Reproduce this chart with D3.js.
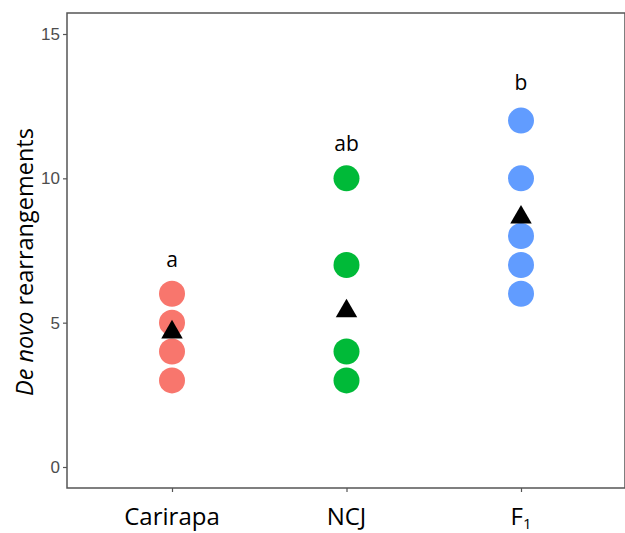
<!DOCTYPE html>
<html>
<head>
<meta charset="utf-8">
<script src="https://cdn.jsdelivr.net/npm/d3@7"></script>
<style>
  body { margin: 0; background: #fff; }
  svg { display: block; }
</style>
</head>
<body>
<svg width="625" height="533"></svg>
<script>
const categories = ["Carirapa", "NCJ", "F1"];
const colors = ["#F8766D", "#00BA38", "#619CFF"];
const points = [
    [3, 4, 5, 6],
    [3, 4, 7, 10],
    [6, 7, 8, 10, 12]
];
const means = [4.67, 5.4, 8.65];
const letters = ["a", "ab", "b"];
const letterY = [7.2, 11.2, 13.3];
const yTicks = [0, 5, 10, 15];

const svg = d3.select("svg");
const panelLeft = 67, panelTop = 13, panelRight = 625, panelBottom = 488;

const x = d3.scalePoint().domain(categories).range([172, 521]);
const y = d3.scaleLinear().domain([0, 15]).range([467, 34]);

const g = svg.append("g");

// x axis
const xAxis = svg.append("g")
    .attr("transform", `translate(0,${panelBottom})`)
    .call(d3.axisBottom(x).tickSize(4).tickFormat(""));
xAxis.select(".domain").remove();
xAxis.selectAll("line").attr("stroke", "#555").attr("stroke-width", 1.2);

// y axis
const yAxis = svg.append("g")
    .attr("transform", `translate(${panelLeft},0)`)
    .call(d3.axisLeft(y).tickValues(yTicks).tickSize(4).tickPadding(3));
yAxis.select(".domain").remove();
yAxis.selectAll("line").attr("stroke", "#555").attr("stroke-width", 1.2);
yAxis.selectAll("text")
    .attr("fill", "#4d4d4d")
    .style("font-family", "Liberation Sans, Arial, sans-serif")
    .style("font-size", "17px");

// panel border
svg.append("rect")
    .attr("x", panelLeft).attr("y", panelTop)
    .attr("width", panelRight - panelLeft).attr("height", panelBottom - panelTop)
    .attr("fill", "none").attr("stroke", "#555").attr("stroke-width", 1.5);

// points
categories.forEach((c, i) => {
    g.selectAll(null)
        .data(points[i])
        .enter()
        .append("circle")
        .attr("cx", x(c))
        .attr("cy", d => y(d))
        .attr("r", 13)
        .attr("fill", colors[i]);
});

// means
svg.selectAll(".mean")
    .data(means)
    .enter()
    .append("path")
    .attr("class", "mean")
    .attr("d", d3.symbol().type(d3.symbolTriangle).size(200))
    .attr("transform", (d, i) => `translate(${x(categories[i])},${y(d)})`)
    .attr("fill", "#000");

// letters
svg.selectAll(".letter")
    .data(letters)
    .enter()
    .append("text")
    .attr("class", "letter")
    .attr("x", (d, i) => x(categories[i]))
    .attr("y", (d, i) => y(letterY[i]))
    .attr("dy", "0.35em")
    .attr("text-anchor", "middle")
    .style("font-family", "Open Sans, sans-serif")
    .style("font-size", "21px")
    .text(d => d);

// x labels
const xl = svg.selectAll(".xlab")
    .data(categories)
    .enter()
    .append("text")
    .attr("class", "xlab")
    .attr("x", d => x(d))
    .attr("y", 525)
    .attr("text-anchor", "middle")
    .style("font-family", "Open Sans, sans-serif")
    .style("font-size", "24px");
xl.each(function(d) {
    const t = d3.select(this);
    if (d === "F1") {
        t.append("tspan").text("F");
        t.append("tspan").attr("dy", 4).style("font-size", "15px").text("1");
    } else {
        t.text(d);
    }
});

// y title
const yt = svg.append("text")
    .attr("transform", "translate(33,262) rotate(-90)")
    .attr("text-anchor", "middle")
    .style("font-family", "Open Sans, sans-serif")
    .style("font-size", "23.5px");
yt.append("tspan").style("font-style", "italic").text("De novo");
yt.append("tspan").text(" rearrangements");
</script>
</body>
</html>
